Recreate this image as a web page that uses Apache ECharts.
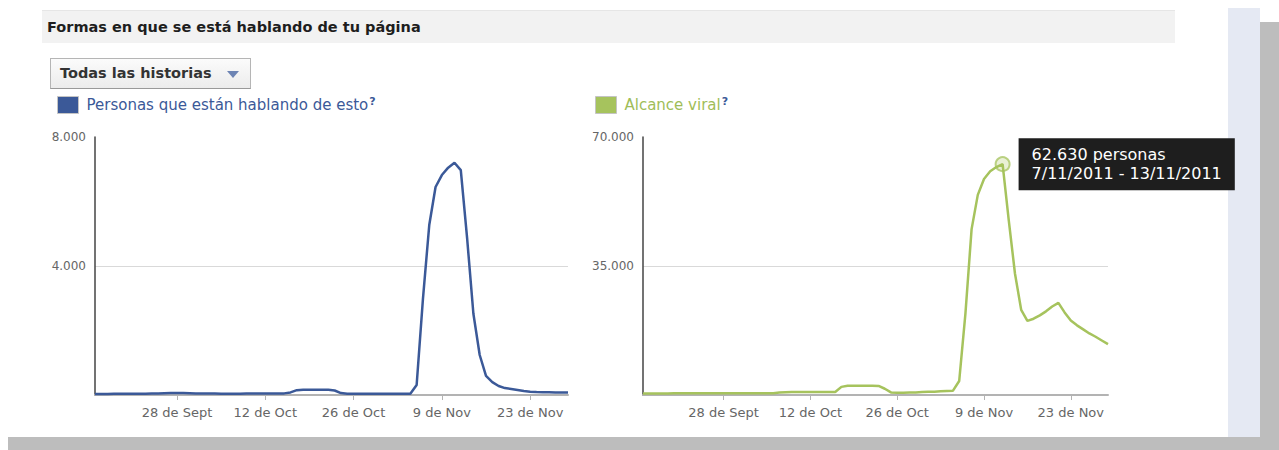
<!DOCTYPE html>
<html>
<head>
<meta charset="utf-8">
<script src="https://cdn.jsdelivr.net/npm/echarts@6/dist/echarts.min.js"></script>
<style>
  html, body { margin: 0; padding: 0; background: #ffffff; }
  #wrap { position: relative; width: 1279px; height: 450px; overflow: hidden; background: #ffffff; font-family: "DejaVu Sans", sans-serif; }
  .panel { position: absolute; left: 1228px; top: 8px; width: 32px; height: 429px; background: #e5e9f3; }
  .strip { position: absolute; left: 1260px; top: 22px; width: 19px; height: 428px; background: #bdbdbd; }
  .bottom { position: absolute; left: 8px; top: 437px; width: 1271px; height: 13px; background: #bdbdbd; }
  .header { position: absolute; left: 42px; top: 10px; width: 1133px; height: 33px; background: #f2f2f2; border-top: 1px solid #e6e6e6;
            box-sizing: border-box; padding-left: 5px; line-height: 32px; font-weight: bold; font-size: 14.5px; color: #1e1e1e; }
  .dropdown { position: absolute; left: 50px; top: 58px; width: 201px; height: 31px; box-sizing: border-box;
              border: 1px solid #b5b5b5; border-bottom-color: #999; background: linear-gradient(#fbfbfb, #ececec);
              padding-left: 9px; line-height: 29px; font-weight: bold; font-size: 14.5px; color: #333; }
  .tri { position: absolute; left: 176px; top: 12px; width: 0; height: 0; border-left: 6px solid transparent; border-right: 6px solid transparent; border-top: 7px solid #6d84b4; }
  #chart { position: absolute; left: 0; top: 0; width: 1279px; height: 450px; }
</style>
</head>
<body>
<div id="wrap">
  <div class="panel"></div>
  <div class="strip"></div>
  <div class="bottom"></div>
  <div class="header">Formas en que se está hablando de tu página</div>
  <div class="dropdown">Todas las historias<span class="tri"></span></div>
  <div id="chart"></div>
</div>
<script>
// ---- data ----
const categories = [
  '2011-09-15','2011-09-16','2011-09-17','2011-09-18','2011-09-19','2011-09-20','2011-09-21','2011-09-22','2011-09-23','2011-09-24',
  '2011-09-25','2011-09-26','2011-09-27','2011-09-28','2011-09-29','2011-09-30','2011-10-01','2011-10-02','2011-10-03','2011-10-04',
  '2011-10-05','2011-10-06','2011-10-07','2011-10-08','2011-10-09','2011-10-10','2011-10-11','2011-10-12','2011-10-13','2011-10-14',
  '2011-10-15','2011-10-16','2011-10-17','2011-10-18','2011-10-19','2011-10-20','2011-10-21','2011-10-22','2011-10-23','2011-10-24',
  '2011-10-25','2011-10-26','2011-10-27','2011-10-28','2011-10-29','2011-10-30','2011-10-31','2011-11-01','2011-11-02','2011-11-03',
  '2011-11-04','2011-11-05','2011-11-06','2011-11-07','2011-11-08','2011-11-09','2011-11-10','2011-11-11','2011-11-12','2011-11-13',
  '2011-11-14','2011-11-15','2011-11-16','2011-11-17','2011-11-18','2011-11-19','2011-11-20','2011-11-21','2011-11-22','2011-11-23',
  '2011-11-24','2011-11-25','2011-11-26','2011-11-27','2011-11-28','2011-11-29'
];
const tickDates  = ['2011-09-28','2011-10-12','2011-10-26','2011-11-09','2011-11-23'];
const tickLabels = ['28 de Sept','12 de Oct','26 de Oct','9 de Nov','23 de Nov'];

const personasName = 'Personas que están hablando de esto';
const personasValues = [
  30, 30, 30, 35, 35, 35, 40, 40, 40, 45,
  50, 55, 60, 60, 60, 55, 50, 50, 45, 45,
  40, 40, 40, 40, 45, 45, 45, 45, 45, 45,
  50, 80, 150, 165, 165, 165, 165, 160, 140, 60,
  40, 35, 35, 35, 35, 35, 35, 35, 35, 35,
  40, 310, 2980, 5270, 6450, 6820, 7050, 7200, 6975, 4870,
  2520, 1240, 590, 400, 280, 215, 185, 155, 125, 100,
  90, 85, 85, 80, 80, 75
];
const personasMax = 8000, personasStep = 4000;

const alcanceName = 'Alcance viral';
const alcanceValues = [
  400, 400, 400, 400, 400, 450, 450, 450, 450, 500,
  500, 500, 500, 500, 500, 500, 500, 500, 500, 500,
  500, 500, 700, 750, 800, 800, 800, 800, 800, 800,
  800, 800, 2200, 2500, 2500, 2500, 2500, 2500, 2450, 1700,
  700, 600, 600, 650, 700, 800, 850, 900, 1000, 1100,
  1170, 3800, 22000, 45000, 54300, 58600, 60700, 61850, 62630, 47300,
  32900, 23100, 20100, 20700, 21600, 22700, 24000, 25000, 22400, 20200,
  18900, 17800, 16700, 15800, 14800, 13800
];
const alcanceMax = 70000, alcanceStep = 35000;

const tipIndex = 58;
const tipUnit = 'personas';
const tipRange = '7/11/2011 - 13/11/2011';

// ---- chart ----
const FONT = '"DejaVu Sans", sans-serif';
const fmt = v => String(v).replace(/\B(?=(\d{3})+(?!\d))/g, '.');
const isTick = (i, v) => tickDates.indexOf(v) >= 0;

function xAxis(gridIndex) {
  return {
    type: 'category', gridIndex, data: categories, boundaryGap: false,
    axisLine: { show: true, lineStyle: { color: '#b3b3b3', width: 2 } },
    axisTick: { show: true, interval: isTick, length: 5, lineStyle: { color: '#b3b3b3', width: 1 } },
    axisLabel: { interval: isTick, formatter: v => tickLabels[tickDates.indexOf(v)] || '',
                 color: '#666666', fontSize: 13, margin: 11, fontFamily: FONT },
    splitLine: { show: false }
  };
}
function yAxis(gridIndex, max, step) {
  return {
    type: 'value', gridIndex, min: 0, max, interval: step,
    axisLine: { show: true, lineStyle: { color: '#444444', width: 1.5 } },
    axisTick: { show: false },
    axisLabel: { formatter: v => v === 0 ? '' : fmt(v), color: '#666666', fontSize: 12, margin: 9, fontFamily: FONT },
    splitLine: { show: true, lineStyle: { color: ['rgba(0,0,0,0)', '#d9d9d9', 'rgba(0,0,0,0)'], width: 1 } }
  };
}
function legend(name, left, color) {
  return {
    data: [name], left, top: 96, padding: 0, icon: 'rect', itemWidth: 21, itemHeight: 17,
    selectedMode: false,
    itemStyle: { borderColor: '#c4c4c4', borderWidth: 1 },
    formatter: n => '{t|' + n + '}{q|?}',
    textStyle: {
      fontFamily: FONT,
      rich: {
        t: { color, fontSize: 15, fontFamily: FONT, padding: [0, 0, 0, 3], lineHeight: 18 },
        q: { color: '#3b5998', fontSize: 11, fontWeight: 'bold', fontFamily: FONT, verticalAlign: 'top', lineHeight: 11, padding: [0, 0, 0, 1] }
      }
    }
  };
}

const chart = echarts.init(document.getElementById('chart'), null, { renderer: 'svg' });
chart.setOption({
  animation: false,
  backgroundColor: 'transparent',
  textStyle: { fontFamily: FONT },
  legend: [legend(personasName, 57, '#3b5998'), legend(alcanceName, 595, '#9fbd58')],
  grid: [
    { left: 95, top: 137, width: 473, height: 258, containLabel: false },
    { left: 643, top: 137, width: 465, height: 258, containLabel: false }
  ],
  xAxis: [xAxis(0), xAxis(1)],
  yAxis: [yAxis(0, personasMax, personasStep), yAxis(1, alcanceMax, alcanceStep)],
  series: [
    {
      name: personasName, type: 'line', xAxisIndex: 0, yAxisIndex: 0, data: personasValues,
      symbol: 'none', color: '#3b5998', lineStyle: { width: 2.5, color: '#3b5998' }, z: 3
    },
    {
      name: alcanceName, type: 'line', xAxisIndex: 1, yAxisIndex: 1, data: alcanceValues,
      symbol: 'none', color: '#a6c35d', lineStyle: { width: 2.5, color: '#a6c35d' }, z: 3,
      markPoint: {
        symbol: 'circle', symbolSize: 14, silent: true,
        itemStyle: { color: 'rgba(166,195,93,0.25)', borderColor: 'rgba(166,195,93,0.75)', borderWidth: 2 },
        label: {
          show: true, position: 'right', distance: 8,
          formatter: p => fmt(p.data.coord[1]) + ' ' + tipUnit + '\n' + tipRange,
          backgroundColor: '#1e1e1e', color: '#ffffff', padding: [7, 13, 7, 13],
          fontSize: 16, lineHeight: 19, fontFamily: FONT, align: 'left'
        },
        data: [{ coord: [categories[tipIndex], alcanceValues[tipIndex]] }]
      }
    }
  ]
});
</script>
</body>
</html>
